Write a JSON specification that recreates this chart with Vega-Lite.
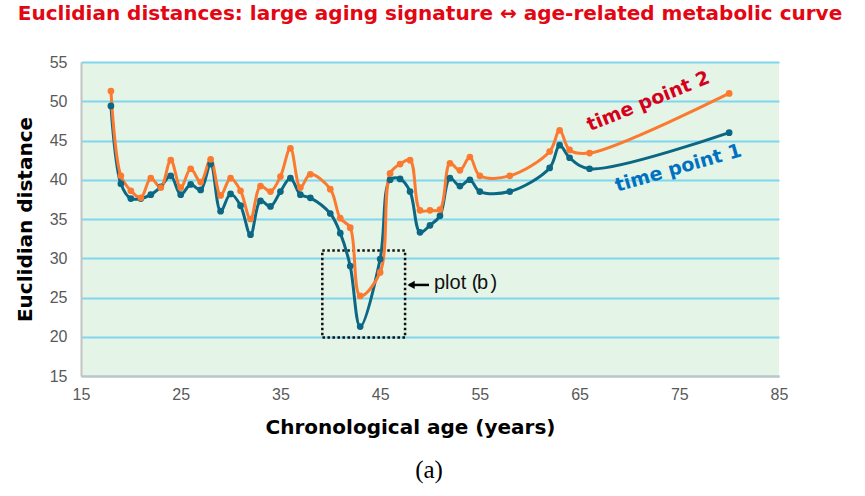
{
  "$schema": "https://vega.github.io/schema/vega-lite/v6.json",
  "width": 698,
  "height": 314,
  "autosize": {"type": "none"},
  "padding": {"left": 81, "top": 62, "right": 86, "bottom": 120},
  "background": "white",
  "config": {
    "view": {"fill": "#e4f4e7", "stroke": null},
    "font": "Liberation Sans"
  },
  "title": {
    "text": "Euclidian distances:  large aging signature ↔ age-related metabolic curve",
    "font": "DejaVu Sans",
    "fontSize": 20,
    "fontWeight": "bold",
    "color": "#e30613",
    "offset": 30,
    "anchor": "middle"
  },
  "datasets": {
    "curves": [
      {"age": 18, "series": "time point 1", "dist": 49.4},
      {"age": 19, "series": "time point 1", "dist": 39.5},
      {"age": 20, "series": "time point 1", "dist": 37.6},
      {"age": 21, "series": "time point 1", "dist": 37.6},
      {"age": 22, "series": "time point 1", "dist": 38.1},
      {"age": 23, "series": "time point 1", "dist": 39.1},
      {"age": 24, "series": "time point 1", "dist": 40.5},
      {"age": 25, "series": "time point 1", "dist": 38.1},
      {"age": 26, "series": "time point 1", "dist": 39.4},
      {"age": 27, "series": "time point 1", "dist": 38.7},
      {"age": 28, "series": "time point 1", "dist": 42.0},
      {"age": 29, "series": "time point 1", "dist": 36.0},
      {"age": 30, "series": "time point 1", "dist": 38.2},
      {"age": 31, "series": "time point 1", "dist": 36.7},
      {"age": 32, "series": "time point 1", "dist": 33.0},
      {"age": 33, "series": "time point 1", "dist": 37.3},
      {"age": 34, "series": "time point 1", "dist": 36.6},
      {"age": 35, "series": "time point 1", "dist": 38.5},
      {"age": 36, "series": "time point 1", "dist": 40.2},
      {"age": 37, "series": "time point 1", "dist": 38.1},
      {"age": 38, "series": "time point 1", "dist": 37.7},
      {"age": 40, "series": "time point 1", "dist": 35.7},
      {"age": 41, "series": "time point 1", "dist": 33.2},
      {"age": 42, "series": "time point 1", "dist": 29.0},
      {"age": 43, "series": "time point 1", "dist": 21.3},
      {"age": 45, "series": "time point 1", "dist": 29.9},
      {"age": 46, "series": "time point 1", "dist": 40.0},
      {"age": 47, "series": "time point 1", "dist": 40.1},
      {"age": 48, "series": "time point 1", "dist": 38.5},
      {"age": 49, "series": "time point 1", "dist": 33.3},
      {"age": 50, "series": "time point 1", "dist": 34.2},
      {"age": 51, "series": "time point 1", "dist": 35.4},
      {"age": 52, "series": "time point 1", "dist": 40.2},
      {"age": 53, "series": "time point 1", "dist": 39.2},
      {"age": 54, "series": "time point 1", "dist": 40.0},
      {"age": 55, "series": "time point 1", "dist": 38.5},
      {"age": 58, "series": "time point 1", "dist": 38.5},
      {"age": 62, "series": "time point 1", "dist": 41.5},
      {"age": 63, "series": "time point 1", "dist": 44.4},
      {"age": 64, "series": "time point 1", "dist": 42.8},
      {"age": 66, "series": "time point 1", "dist": 41.4},
      {"age": 80, "series": "time point 1", "dist": 46.0},
      {"age": 18, "series": "time point 2", "dist": 51.3},
      {"age": 19, "series": "time point 2", "dist": 40.5},
      {"age": 20, "series": "time point 2", "dist": 38.6},
      {"age": 21, "series": "time point 2", "dist": 37.7},
      {"age": 22, "series": "time point 2", "dist": 40.2},
      {"age": 23, "series": "time point 2", "dist": 39.0},
      {"age": 24, "series": "time point 2", "dist": 42.5},
      {"age": 25, "series": "time point 2", "dist": 39.0},
      {"age": 26, "series": "time point 2", "dist": 41.4},
      {"age": 27, "series": "time point 2", "dist": 39.7},
      {"age": 28, "series": "time point 2", "dist": 42.6},
      {"age": 29, "series": "time point 2", "dist": 38.0},
      {"age": 30, "series": "time point 2", "dist": 40.2},
      {"age": 31, "series": "time point 2", "dist": 38.6},
      {"age": 32, "series": "time point 2", "dist": 35.0},
      {"age": 33, "series": "time point 2", "dist": 39.2},
      {"age": 34, "series": "time point 2", "dist": 38.5},
      {"age": 35, "series": "time point 2", "dist": 40.4},
      {"age": 36, "series": "time point 2", "dist": 44.0},
      {"age": 37, "series": "time point 2", "dist": 39.0},
      {"age": 38, "series": "time point 2", "dist": 40.7},
      {"age": 40, "series": "time point 2", "dist": 38.8},
      {"age": 41, "series": "time point 2", "dist": 35.1},
      {"age": 42, "series": "time point 2", "dist": 33.9},
      {"age": 43, "series": "time point 2", "dist": 25.2},
      {"age": 45, "series": "time point 2", "dist": 28.2},
      {"age": 46, "series": "time point 2", "dist": 40.8},
      {"age": 47, "series": "time point 2", "dist": 42.0},
      {"age": 48, "series": "time point 2", "dist": 42.5},
      {"age": 49, "series": "time point 2", "dist": 36.1},
      {"age": 50, "series": "time point 2", "dist": 36.1},
      {"age": 51, "series": "time point 2", "dist": 36.2},
      {"age": 52, "series": "time point 2", "dist": 42.1},
      {"age": 53, "series": "time point 2", "dist": 41.2},
      {"age": 54, "series": "time point 2", "dist": 42.9},
      {"age": 55, "series": "time point 2", "dist": 40.5},
      {"age": 58, "series": "time point 2", "dist": 40.5},
      {"age": 62, "series": "time point 2", "dist": 43.6},
      {"age": 63, "series": "time point 2", "dist": 46.3},
      {"age": 64, "series": "time point 2", "dist": 43.8},
      {"age": 66, "series": "time point 2", "dist": 43.4},
      {"age": 80, "series": "time point 2", "dist": 51.0}
    ]
  },
  "encoding": {
    "x": {
      "field": "age", "type": "quantitative",
      "scale": {"domain": [15, 85], "nice": false, "zero": false},
      "axis": {
        "title": "Chronological age (years)",
        "values": [15, 25, 35, 45, 55, 65, 75, 85],
        "grid": false, "ticks": false, "labelFlush": false, "labelOverlap": false,
        "domainColor": "#c3c3c3", "domainWidth": 2,
        "labelFont": "Liberation Sans", "labelFontSize": 16, "labelColor": "#595959", "labelPadding": 10,
        "titleFont": "DejaVu Sans", "titleFontSize": 20, "titleFontWeight": "bold", "titleColor": "#000000",
        "titlePadding": 15, "titleX": 329
      }
    },
    "y": {
      "field": "dist", "type": "quantitative",
      "scale": {"domain": [15, 55], "nice": false, "zero": false},
      "axis": {
        "title": "Euclidian distance",
        "values": [15, 20, 25, 30, 35, 40, 45, 50, 55],
        "grid": true, "gridColor": "#7fd6ee", "gridWidth": 2,
        "ticks": false, "labelFlush": false, "labelOverlap": false,
        "domainColor": "#c3c3c3", "domainWidth": 2,
        "labelFont": "Liberation Sans", "labelFontSize": 16, "labelColor": "#595959", "labelPadding": 14,
        "titleFont": "DejaVu Sans", "titleFontSize": 20, "titleFontWeight": "bold", "titleColor": "#000000",
        "titlePadding": 14
      }
    }
  },
  "layer": [
    {
      "data": {"values": [{"age": 39.2, "age2": 47.5, "dist": 19.9, "dist2": 31.0}]},
      "mark": {"type": "rect", "fill": null, "stroke": "#111111", "strokeWidth": 2.5, "strokeDash": [2.5, 2.5], "clip": false},
      "encoding": {
        "x2": {"field": "age2"},
        "y2": {"field": "dist2"}
      }
    },
    {
      "data": {"name": "curves"},
      "mark": {"type": "line", "interpolate": "catmull-rom", "strokeWidth": 3, "point": {"filled": true, "size": 45}},
      "encoding": {
        "color": {
          "field": "series", "type": "nominal",
          "scale": {"domain": ["time point 1", "time point 2"], "range": ["#0b6784", "#fb7a2f"]},
          "legend": null
        },
        "order": {"field": "age", "type": "quantitative"}
      }
    },
    {
      "data": {"values": [
        {"age": 71.9, "dist": 50.0, "label": "time point 2"}
      ]},
      "mark": {"type": "text", "font": "DejaVu Sans", "fontSize": 19, "fontWeight": "bold", "color": "#d6001c", "angle": -22, "align": "center", "baseline": "middle"},
      "encoding": {
        "text": {"field": "label"}
      }
    },
    {
      "data": {"values": [
        {"age": 74.9, "dist": 41.5, "label": "time point 1"}
      ]},
      "mark": {"type": "text", "font": "DejaVu Sans", "fontSize": 19, "fontWeight": "bold", "color": "#0070c0", "angle": -16, "align": "center", "baseline": "middle"},
      "encoding": {
        "text": {"field": "label"}
      }
    },
    {
      "data": {"values": [{"age": 47.9, "age2": 49.9, "dist": 26.6}]},
      "mark": {"type": "rule", "color": "#000000", "strokeWidth": 2.5},
      "encoding": {
        "x2": {"field": "age2"}
      }
    },
    {
      "data": {"values": [{"age": 48.1, "dist": 26.6}]},
      "mark": {"type": "point", "shape": "triangle-left", "filled": true, "color": "#000000", "size": 70, "opacity": 1},
      "encoding": {}
    },
    {
      "data": {"values": [
        {"age": 50.4, "dist": 26.8, "t": "plot (", "w": "normal"},
        {"age": 54.72, "dist": 26.8, "t": "b", "w": "bold"},
        {"age": 56.07, "dist": 26.8, "t": ")", "w": "normal"}
      ]},
      "mark": {"type": "text", "font": "Liberation Sans", "fontSize": 20, "color": "#111111", "baseline": "middle", "align": "left"},
      "encoding": {
        "text": {"field": "t"},
        "fontWeight": {"field": "w", "type": "nominal", "scale": null}
      }
    },
    {
      "data": {"values": [{"age": 49.9, "dist": 3.0, "t": "(a)"}]},
      "mark": {"type": "text", "font": "Liberation Serif", "fontSize": 25, "color": "#000000", "align": "center", "baseline": "middle", "clip": false},
      "encoding": {
        "text": {"field": "t"}
      }
    }
  ]
}
